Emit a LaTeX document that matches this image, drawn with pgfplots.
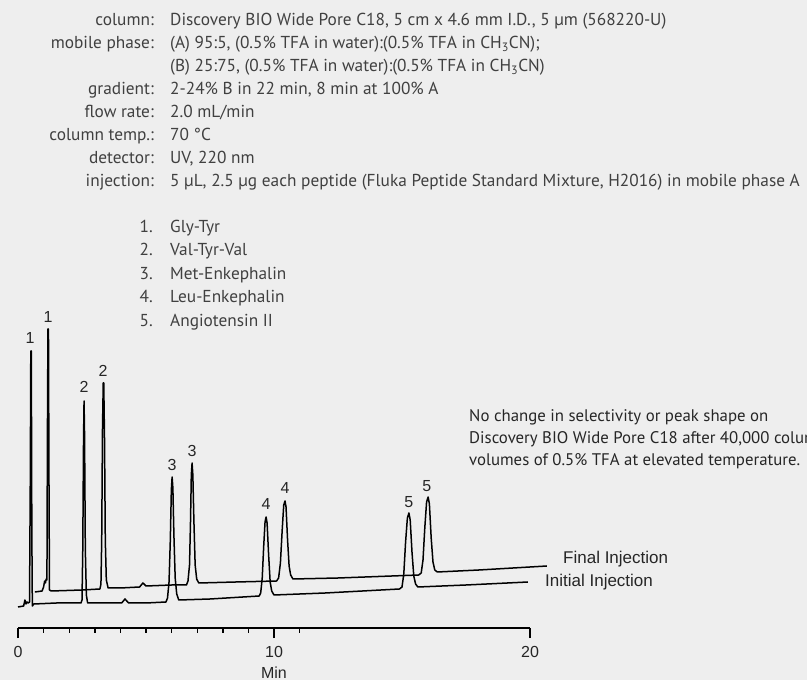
\documentclass[border=0pt]{standalone}
\usepackage{pgfplots}
\pgfplotsset{compat=1.18}
\usepackage{fontspec}
\setmainfont{PT Sans}
\newfontfamily\arial{Liberation Sans}
\definecolor{bg}{HTML}{EEEEEE}
\definecolor{txt}{HTML}{404040}
\newcommand{\hf}{\fontsize{17.3bp}{20bp}\selectfont}
\newcommand{\af}{\arial\fontsize{16bp}{19bp}\selectfont}
\newcommand{\nf}{\fontsize{16.8bp}{19bp}\selectfont}
\begin{document}
\begin{tikzpicture}[x=1bp,y=1bp]
\fill[bg] (0,0) rectangle (807,680);
\useasboundingbox (0,0) rectangle (807,680);
\begin{scope}
\clip (0,0) rectangle (807,680);
% header
\begin{scope}[every node/.style={inner sep=0pt, text=txt, font=\hf}]
\node[anchor=base east] at (154,654) {column:};
\node[anchor=base west] at (170,654) {Discovery BIO Wide Pore C18, 5 cm x 4.6 mm I.D., 5 µm (568220-U)};
\node[anchor=base east] at (154,631) {mobile phase:};
\node[anchor=base west] at (170,631) {(A) 95:5, (0.5\% TFA in water):(0.5\% TFA in CH\textsubscript{3}CN);};
\node[anchor=base west] at (170,608) {(B) 25:75, (0.5\% TFA in water):(0.5\% TFA in CH\textsubscript{3}CN)};
\node[anchor=base east] at (154,585) {gradient:};
\node[anchor=base west] at (170,585) {2-24\% B in 22 min, 8 min at 100\% A};
\node[anchor=base east] at (154,562) {flow rate:};
\node[anchor=base west] at (170,562) {2.0 mL/min};
\node[anchor=base east] at (154,539) {column temp.:};
\node[anchor=base west] at (170,539) {70 °C};
\node[anchor=base east] at (154,516) {detector:};
\node[anchor=base west] at (170,516) {UV, 220 nm};
\node[anchor=base east] at (154,493) {injection:};
\node[anchor=base west] at (170,493) {5 µL, 2.5 µg each peptide (Fluka Peptide Standard Mixture, H2016) in mobile phase A};
% legend
\node[anchor=base east] at (153,447) {1.};
\node[anchor=base west] at (170,447) {Gly-Tyr};
\node[anchor=base east] at (153,424) {2.};
\node[anchor=base west] at (170,424) {Val-Tyr-Val};
\node[anchor=base east] at (153,400) {3.};
\node[anchor=base west] at (170,400) {Met-Enkephalin};
\node[anchor=base east] at (153,377) {4.};
\node[anchor=base west] at (170,377) {Leu-Enkephalin};
\node[anchor=base east] at (153,353) {5.};
\node[anchor=base west] at (170,353) {Angiotensin II};
% annotation
\node[anchor=base west, font=\nf, text=black!85] at (469,258) {No change in selectivity or peak shape on};
\node[anchor=base west, font=\nf, text=black!85] at (469,236) {Discovery BIO Wide Pore C18 after 40,000 column};
\node[anchor=base west, font=\nf, text=black!85] at (469,214) {volumes of 0.5\% TFA at elevated temperature.};
\end{scope}
\node[anchor=base west, inner sep=0pt, font=\arial\fontsize{17bp}{19bp}\selectfont, text=black!85] at (563,116) {Final Injection};
\node[anchor=base west, inner sep=0pt, font=\arial\fontsize{17bp}{19bp}\selectfont, text=black!85] at (545,93) {Initial Injection};
\end{scope}
\begin{axis}[
  at={(18bp,52bp)}, anchor=south west,
  scale only axis, width=512bp, height=328bp,
  xmin=0, xmax=20, ymin=52, ymax=380,
  axis x line=bottom, axis y line=none,
  x axis line style={-, line width=1.5bp, black},
  xtick={0,10,20},
  minor xtick={1,...,9,11,...,19},
  tick align=outside,
  major tick length=10bp, minor tick length=5bp,
  every tick/.append style={black, line width=1.4bp},
  every minor tick/.append style={black, line width=1.4bp},
  /pgf/number format/assume math mode=true,
  xticklabel style={font=\af, text=black!85, yshift=-5bp},
  xlabel={Min},
  xlabel style={font=\af, text=black!85, at={(axis description cs:0.5,0)}, anchor=base, yshift=-50bp},
  clip=false,
]
\addplot[black, line width=1.5bp, line join=round] coordinates {
(0.00,73) (0.22,74) (0.27,80) (0.31,76) (0.35,78) (0.40,77) (0.45,78) (0.48,200) (0.50,329) (0.52,329) (0.54,150) (0.56,74) (0.62,76) (1.5,77) (2.46,77) (2.50,80) (2.53,130) (2.56,240) (2.58,279) (2.60,245) (2.63,130) (2.67,85) (2.72,77) (3.5,77) (4.05,77) (4.18,81) (4.32,77) (5.0,77) (5.78,78) (5.84,82) (5.90,98) (5.95,140) (5.99,190) (6.02,203) (6.05,192) (6.09,145) (6.14,102) (6.20,86) (6.28,80) (7.5,81) (9.42,84) (9.48,87) (9.54,102) (9.60,135) (9.65,158) (9.69,163) (9.73,157) (9.79,125) (9.85,98) (9.91,89) (10.0,85) (12.0,87) (14.9,91) (15.0,93) (15.07,106) (15.14,138) (15.21,162) (15.27,167) (15.32,160) (15.39,128) (15.46,104) (15.53,96) (15.62,93) (17.5,95) (19.92,98)
};
\addplot[black, line width=1.5bp, line join=round] coordinates {
(0.66,88) (0.94,89) (1.00,93) (1.04,99) (1.07,97) (1.10,101) (1.13,100) (1.15,250) (1.17,351) (1.19,351) (1.21,200) (1.23,90) (1.30,89) (2.5,90) (3.20,91) (3.24,96) (3.27,140) (3.30,250) (3.33,297) (3.35,297) (3.38,240) (3.41,140) (3.45,100) (3.52,92) (4.0,92) (4.75,93) (4.88,97) (5.0,94) (6.0,95) (6.58,95) (6.64,99) (6.70,115) (6.74,160) (6.77,205) (6.80,217) (6.83,205) (6.87,160) (6.92,115) (6.98,101) (7.06,97) (8.5,98) (10.10,99) (10.18,102) (10.25,117) (10.32,150) (10.38,175) (10.43,179) (10.47,173) (10.53,140) (10.59,114) (10.65,105) (10.74,101) (12.5,102) (15.65,105) (15.75,107) (15.82,120) (15.89,152) (15.96,178) (16.02,183) (16.07,176) (16.14,142) (16.21,118) (16.28,110) (16.38,108) (18,110) (20.66,114)
};
\begin{scope}[every node/.style={font=\af, text=black!85, inner sep=0pt}]
\node at (axis cs:0.47,342) {1};
\node at (axis cs:1.17,363) {1};
\node at (axis cs:2.58,293) {2};
\node at (axis cs:3.32,309) {2};
\node at (axis cs:6.02,215) {3};
\node at (axis cs:6.80,229) {3};
\node at (axis cs:9.69,176) {4};
\node at (axis cs:10.43,192) {4};
\node at (axis cs:15.27,178) {5};
\node at (axis cs:15.97,194) {5};
\end{scope}
\end{axis}
\end{tikzpicture}
\end{document}
